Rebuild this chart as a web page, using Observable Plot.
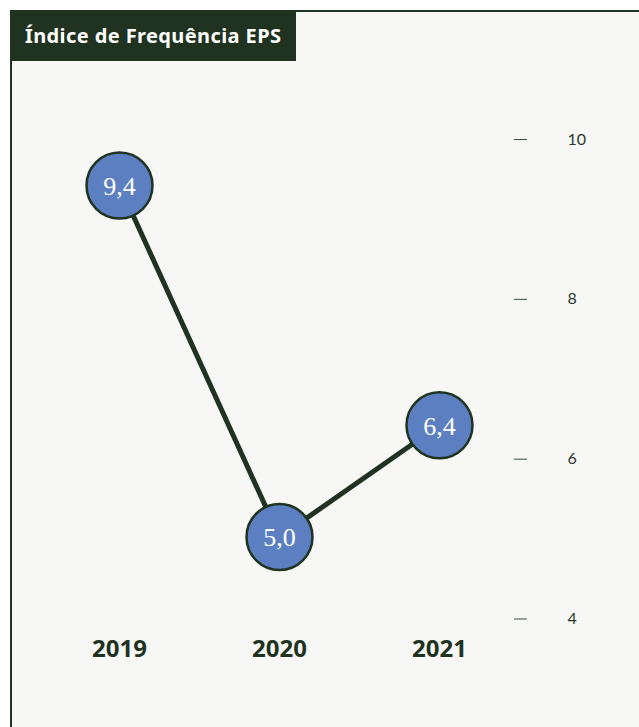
<!DOCTYPE html>
<html>
<head>
<meta charset="utf-8">
<script src="https://cdn.jsdelivr.net/npm/d3@7"></script>
<script src="https://cdn.jsdelivr.net/npm/@observablehq/plot@0.6"></script>
<style>
  html, body { margin: 0; padding: 0; background: #ffffff; }
  #wrap { position: relative; width: 639px; height: 727px; overflow: hidden; background: #ffffff; }
  #card { position: absolute; left: 10px; top: 10px; width: 640px; height: 730px;
          background: #f7f7f5; border-left: 2px solid #1f3320; border-top: 2px solid #1f3320; }
  #title { position: absolute; left: 10px; top: 10px; width: 286px; height: 51px; background: #1f3320;
           color: #ffffff; font-family: "Noto Sans", sans-serif; font-weight: 700; font-size: 20px;
           line-height: 51px; padding-left: 15px; box-sizing: border-box; letter-spacing: 0.4px; white-space: nowrap; }
  #chart { position: absolute; left: 0; top: 0; }
</style>
</head>
<body>
<div id="wrap">
  <div id="card"></div>
  <div id="title">Índice de Frequência EPS</div>
  <div id="chart"></div>
</div>
<script>
const years = [2019, 2020, 2021];
const values = [9.4, 5.0, 6.4];
const valueLabels = ["9,4", "5,0", "6,4"];
const yTicks = [4, 6, 8, 10];

const data = years.map((y, i) => ({year: y, value: values[i], label: valueLabels[i]}));
const dark = "#1f3320";

const plot = Plot.plot({
  width: 639,
  height: 727,
  marginRight: 126,
  marginBottom: 97,
  style: {background: "transparent", overflow: "visible"},
  x: {type: "point", domain: years, range: [118.5, 439.5], padding: 0},
  y: {domain: [4, 10], range: [616.5, 137]},
  marks: [
    Plot.axisY({
      anchor: "right", ticks: yTicks, tickSize: 13, tickPadding: 41, textAnchor: "start",
      tickFormat: d => String(d), dy: 2,
      stroke: "#3c4c3c", strokeWidth: 1, fill: "#2c382c", fontSize: 16, fontFamily: "Lato, sans-serif",
      label: null
    }),
    Plot.axisX({
      anchor: "bottom", tickSize: 0, tickPadding: 9, tickFormat: d => String(d),
      fill: dark, fontSize: 24, fontWeight: 700, fontFamily: "Noto Sans, sans-serif", label: null
    }),
    Plot.line(data, {x: "year", y: "value", stroke: dark, strokeWidth: 5}),
    Plot.dot(data, {x: "year", y: "value", r: 33, fill: "#5b7fc1", stroke: dark, strokeWidth: 2.5}),
    Plot.text(data, {x: "year", y: "value", text: "label", fill: "#ffffff", fontSize: 26,
      fontFamily: "Liberation Serif, serif", dy: 1})
  ]
});
document.getElementById("chart").appendChild(plot);
</script>
</body>
</html>
